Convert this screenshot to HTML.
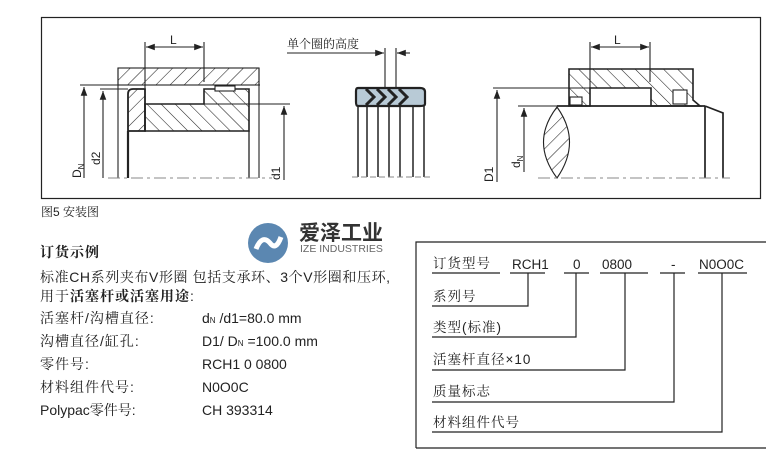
<!DOCTYPE html>
<html><head><meta charset="utf-8"><style>
body{margin:0;width:766px;height:471px;background:#fff;overflow:hidden;position:relative;font-family:"Liberation Sans","Noto Serif CJK SC",serif;color:#222}
.t{position:absolute;white-space:nowrap;font-size:14px;line-height:1}
.s{letter-spacing:1px}
.r{font-size:13.5px}
</style></head><body>
<svg width="766" height="471" style="position:absolute;left:0;top:0" xmlns="http://www.w3.org/2000/svg">
<defs>
<pattern id="h1" patternUnits="userSpaceOnUse" width="10" height="10" patternTransform="rotate(45)"><line x1="0" y1="0" x2="0" y2="10" stroke="#222" stroke-width="1.1"/></pattern>
<pattern id="h2" patternUnits="userSpaceOnUse" width="10" height="10" patternTransform="rotate(-45)"><line x1="0" y1="0" x2="0" y2="10" stroke="#222" stroke-width="1.1"/></pattern>
<marker id="a" markerWidth="8" markerHeight="6" refX="8" refY="3" orient="auto"><path d="M0,0 L8,3 L0,6z" fill="#222"/></marker>
</defs>
<rect x="41.5" y="17.5" width="719" height="181" fill="none" stroke="#222" stroke-width="1.2"/>
<g stroke="#222" fill="none" stroke-width="1.1">
<rect x="118" y="68" width="141" height="17" fill="url(#h1)" stroke="#222"/>
<line x1="80" y1="85" x2="260" y2="85"/>
<line x1="118" y1="68" x2="118" y2="178"/>
<line x1="259" y1="68" x2="259" y2="178"/>
<path d="M128,131 L128,94 Q128,89 133,89 L145,89 L145,131 Z" fill="url(#h1)" stroke-width="1.8"/>
<path d="M145,104 L204,104 L204,89 L249,89 L249,131 L145,131 Z" fill="url(#h2)" stroke-width="1.6"/>
<rect x="215" y="86" width="20" height="5" fill="#fff"/>
<line x1="128" y1="131" x2="128" y2="178" stroke-width="2.2"/>
<line x1="249" y1="131" x2="249" y2="178" stroke-width="1.3"/>
<line x1="100" y1="89" x2="128" y2="89"/>
<line x1="103" y1="178" x2="103" y2="91" marker-end="url(#a)"/>
<line x1="84" y1="178" x2="84" y2="87" marker-end="url(#a)"/>
<line x1="204" y1="104" x2="290" y2="104"/>
<line x1="284" y1="180" x2="284" y2="106" marker-end="url(#a)"/>
<line x1="145" y1="42" x2="145" y2="88"/>
<line x1="204" y1="42" x2="204" y2="82"/>
<line x1="175" y1="47" x2="146" y2="47" marker-end="url(#a)"/>
<line x1="175" y1="47" x2="203" y2="47" marker-end="url(#a)"/>
<line x1="108" y1="178" x2="272" y2="178" stroke="#888" stroke-dasharray="12,4,3,4"/>
<path d="M358,88 L420,88 Q425,88 425,92 L425,104 Q425,106 420,106 L358,106 Q356,106 356,102 L356,91 Q356,88 358,88Z" fill="#b8cad6" stroke-width="2.2"/>
<path d="M366,89 L374,97 L366,105 M377,89 L385,97 L377,105 M388,89 L396,97 L388,105 M399,89 L407,97 L399,105" stroke-width="3"/>
<g stroke-width="1.5">
<line x1="358" y1="106" x2="358" y2="177"/><line x1="367" y1="106" x2="367" y2="177"/><line x1="378" y1="106" x2="378" y2="177"/><line x1="389" y1="106" x2="389" y2="177"/><line x1="400" y1="106" x2="400" y2="177"/><line x1="413" y1="106" x2="413" y2="177"/><line x1="424" y1="106" x2="424" y2="177"/>
</g>
<line x1="352" y1="177" x2="430" y2="177" stroke="#888" stroke-dasharray="6,3"/>
<line x1="385" y1="48" x2="385" y2="88"/>
<line x1="396" y1="48" x2="396" y2="88"/>
<line x1="287" y1="53" x2="384" y2="53" marker-end="url(#a)"/>
<line x1="410" y1="53" x2="397" y2="53" marker-end="url(#a)"/>
<path d="M569,69 L693,69 L693,100 L700,106 L651,106 L651,88 L590,88 L590,106 L569,106 Z" fill="url(#h2)" stroke-width="1.6"/>
<rect x="570" y="97" width="12" height="8" fill="#fff"/>
<rect x="673" y="90" width="14" height="14" fill="#fff"/>
<line x1="493" y1="88" x2="590" y2="88"/>
<line x1="497" y1="182" x2="497" y2="90" marker-end="url(#a)"/>
<line x1="518" y1="106" x2="560" y2="106"/>
<line x1="524" y1="172" x2="524" y2="108" marker-end="url(#a)"/>
<line x1="557" y1="106" x2="705" y2="106" stroke-width="1.7"/>
<path d="M705,106 L723,113 L723,178 M705,106 L705,178" stroke-width="1.7"/>
<path d="M557,107 Q530,142 557,178 Q582,142 557,107Z" fill="url(#h1)"/>
<line x1="590" y1="42" x2="590" y2="88"/>
<line x1="650" y1="42" x2="650" y2="82"/>
<line x1="620" y1="47" x2="591" y2="47" marker-end="url(#a)"/>
<line x1="620" y1="47" x2="649" y2="47" marker-end="url(#a)"/>
<line x1="538" y1="178" x2="730" y2="178" stroke="#888" stroke-dasharray="12,4,3,4"/>
<circle cx="268" cy="243" r="20" fill="#5b87b1" stroke="none"/>
<path d="M256,249 Q262,234 270,243 Q276,251 281,237" stroke="#fff" stroke-width="5"/>
<path d="M416,448 L416,242 L766,242" stroke-width="1.2"/>
<line x1="416" y1="448" x2="766" y2="448" stroke-width="1.2"/>
<g stroke-width="1.2">
<line x1="432" y1="273" x2="500" y2="273"/><line x1="510" y1="273" x2="545" y2="273"/><line x1="564" y1="273" x2="589" y2="273"/><line x1="600" y1="273" x2="648" y2="273"/><line x1="660" y1="273" x2="685" y2="273"/><line x1="698" y1="273" x2="747" y2="273"/>
<path d="M432,306 L528,306 L528,273"/><path d="M432,337 L576,337 L576,273"/><path d="M432,370 L625,370 L625,273"/><path d="M432,402 L674,402 L674,273"/><path d="M432,432 L722,432 L722,273"/>
</g>
</g>
<g font-family="Liberation Sans, Noto Sans CJK SC, sans-serif" fill="#222">
<text x="170" y="44" font-size="12">L</text>
<text x="614" y="44" font-size="12">L</text>
<text x="287" y="48" font-size="12" font-family="Noto Serif CJK SC, serif">单个圈的高度</text>
<text transform="translate(81,178) rotate(-90)" font-size="12">D<tspan font-size="8" dy="3">N</tspan></text>
<text transform="translate(100,165) rotate(-90)" font-size="12">d2</text>
<text transform="translate(280,180) rotate(-90)" font-size="12">d1</text>
<text transform="translate(493,182) rotate(-90)" font-size="12">D1</text>
<text transform="translate(520,168) rotate(-90)" font-size="12">d<tspan font-size="8" dy="3">N</tspan></text>
</g>
</svg>
<div class="t" style="left:41px;top:206px;font-size:12px">图5 安装图</div>
<div class="t" style="left:299px;top:222px;font-size:21px;font-weight:bold;color:#333;font-family:'Noto Sans CJK SC',sans-serif">爱泽工业</div>
<div class="t" style="left:300px;top:244px;font-size:10.5px;color:#666">IZE INDUSTRIES</div>
<div class="t s" style="left:40px;top:245px;font-weight:bold">订货示例</div>
<div class="t" style="left:40px;top:270px;letter-spacing:0.6px">标准CH系列夹布V形圈 包括支承环、3个V形圈和压环,</div>
<div class="t s" style="left:40px;top:289px">用于<b>活塞杆或活塞用途</b>:</div>
<div class="t s" style="left:40px;top:311px">活塞杆/沟槽直径:</div>
<div class="t s" style="left:40px;top:334px">沟槽直径/缸孔:</div>
<div class="t s" style="left:40px;top:357px">零件号:</div>
<div class="t s" style="left:40px;top:380px">材料组件代号:</div>
<div class="t" style="left:40px;top:403px">Polypac零件号:</div>
<div class="t" style="left:202px;top:311px">d<span style="font-size:8px">N</span> /d1=80.0 mm</div>
<div class="t" style="left:202px;top:334px">D1/ D<span style="font-size:8px">N</span> =100.0 mm</div>
<div class="t" style="left:202px;top:357px">RCH1 0 0800</div>
<div class="t" style="left:202px;top:380px">N0O0C</div>
<div class="t" style="left:202px;top:403px">CH 393314</div>
<div class="t r s" style="left:433px;top:257px">订货型号</div>
<div class="t r" style="left:512px;top:258px">RCH1</div>
<div class="t r" style="left:573px;top:258px">0</div>
<div class="t r" style="left:602px;top:258px">0800</div>
<div class="t r" style="left:671px;top:258px">-</div>
<div class="t r" style="left:699px;top:258px">N0O0C</div>
<div class="t r s" style="left:433px;top:290px">系列号</div>
<div class="t r s" style="left:433px;top:321px">类型(标准)</div>
<div class="t r s" style="left:433px;top:353px">活塞杆直径×10</div>
<div class="t r s" style="left:433px;top:385px">质量标志</div>
<div class="t r s" style="left:433px;top:416px">材料组件代号</div>
</body></html>
